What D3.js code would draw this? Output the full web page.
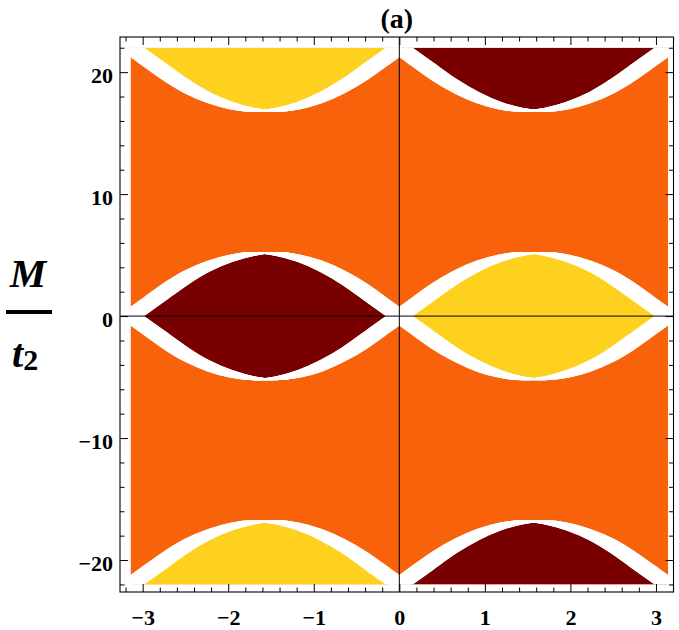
<!DOCTYPE html>
<html>
<head>
<meta charset="utf-8">
<script src="https://cdn.jsdelivr.net/npm/d3@7"></script>
<style>
body { margin: 0; background: #fff; }
text { font-family: "Liberation Serif", "Times New Roman", serif; font-weight: bold; }
</style>
</head>
<body>
<div id="chart"></div>
<script>
// phase boundaries, one arch per half of the phi range
var phiLeft  = [-3.14, -2.88, -2.62, -2.36, -2.09, -1.83, -1.57, -1.31, -1.05, -0.79, -0.52, -0.26, 0];
var phiRight = [0, 0.26, 0.52, 0.79, 1.05, 1.31, 1.57, 1.83, 2.09, 2.36, 2.62, 2.88, 3.14];
// inner (lens) boundary M/t2, upper branch (lower branch is the mirror image)
var lensM = [0, 1.3, 2.6, 3.7, 4.5, 5.0, 5.2, 5.0, 4.5, 3.7, 2.6, 1.3, 0];
// outer boundary M/t2, bottom edge of the upper caps
var capM  = [22, 20.7, 19.4, 18.3, 17.5, 17.0, 16.8, 17.0, 17.5, 18.3, 19.4, 20.7, 22];
var mLimit = 22;
// phase of each region per half: 0 = trivial, -1 / +1 = topological
var halves = ["left", "right"];
var lensPhase = [-1, 1];
var capPhase = [1, -1];
var xTicks = [-3, -2, -1, 0, 1, 2, 3];
var yTicks = [-20, -10, 0, 10, 20];

//Width and height
var w = 679, h = 630;
var gapHalf = 0.145; // half width of the white gap, in phi units

var x = d3.scaleLinear().domain([-3.265, 3.205]).range([120, 673.5]);
var y = d3.scaleLinear().domain([-22.62, 22.88]).range([592, 37]);
var color = d3.scaleOrdinal().domain([-1, 0, 1]).range(["#780000", "#f7620a", "#fed11f"]);
var fmt = d3.format("d");

var svg = d3.select("#chart").append("svg")
  .attr("width", w)
  .attr("height", h);

//Clip to the sampled region
svg.append("defs").append("clipPath").attr("id", "clip")
  .append("rect")
  .attr("x", x(-Math.PI))
  .attr("y", y(mLimit))
  .attr("width", x(Math.PI) - x(-Math.PI))
  .attr("height", y(-mLimit) - y(mLimit));

var plot = svg.append("g").attr("clip-path", "url(#clip)");

plot.append("rect")
  .attr("x", x(-Math.PI))
  .attr("y", y(mLimit))
  .attr("width", x(Math.PI) - x(-Math.PI))
  .attr("height", y(-mLimit) - y(mLimit))
  .attr("fill", color(0));

var phis = [phiLeft, phiRight];

halves.forEach(function(half, i) {
  var lens = d3.zip(phis[i], lensM);
  var cap = d3.zip(phis[i], capM);

  //lens around M = 0
  plot.append("path")
    .datum(lens)
    .attr("class", "region " + half)
    .attr("fill", color(lensPhase[i]))
    .attr("d", d3.area().curve(d3.curveNatural)
      .x(function(d) { return x(d[0]); })
      .y0(function(d) { return y(-d[1]); })
      .y1(function(d) { return y(d[1]); }));

  //upper and lower caps
  [1, -1].forEach(function(s) {
    plot.append("path")
      .datum(cap)
      .attr("class", "region " + half)
      .attr("fill", color(capPhase[i]))
      .attr("d", d3.area().curve(d3.curveNatural)
        .x(function(d) { return x(d[0]); })
        .y0(function(d) { return y(s * d[1]); })
        .y1(function() { return y(s * mLimit); }));
  });
});

//White gaps: boundaries smeared horizontally by +-gapHalf
var gapPx = x(gapHalf) - x(0);
var shifts = d3.range(-gapPx, gapPx + 0.01, 0.75);
var gaps = plot.append("g").attr("fill", "none").attr("stroke", "#fff").attr("stroke-width", 1.4);

halves.forEach(function(half, i) {
  [lensM, capM].forEach(function(curveM) {
    [1, -1].forEach(function(s) {
      var line = d3.line().curve(d3.curveNatural)
        .x(function(d) { return x(d[0]); })
        .y(function(d) { return y(s * d[1]); });
      var pts = d3.zip(phis[i], curveM);
      shifts.forEach(function(dx) {
        gaps.append("path")
          .datum(pts)
          .attr("transform", "translate(" + dx + ",0)")
          .attr("d", line);
      });
    });
  });
});

//Axes lines through the origin
svg.append("line")
  .attr("x1", x(0)).attr("x2", x(0))
  .attr("y1", y.range()[1]).attr("y2", y.range()[0])
  .attr("stroke", "#000").attr("stroke-width", 1);
svg.append("line")
  .attr("x1", x.range()[0]).attr("x2", x.range()[1])
  .attr("y1", y(0)).attr("y2", y(0))
  .attr("stroke", "#000").attr("stroke-width", 1);

//Frame
svg.append("rect")
  .attr("x", x.range()[0])
  .attr("y", y.range()[1])
  .attr("width", x.range()[1] - x.range()[0])
  .attr("height", y.range()[0] - y.range()[1])
  .attr("fill", "none")
  .attr("stroke", "#000")
  .attr("stroke-width", 1.1);

var xMinor = d3.range(-32, 33, 2).filter(function(v) { return v % 10 != 0; }).map(function(v) { return v / 10; });
var yMinor = d3.range(-22, 23, 2).filter(function(v) { return v % 10 != 0; });
var bigTick = 8, smallTick = 4.5;

function frameAxis(axisFn, scale, pos, major, minor, labels) {
  var g = svg.append("g").attr("transform", pos);
  g.call(axisFn(scale).tickValues(minor).tickSize(-smallTick).tickFormat(""));
  var gm = svg.append("g").attr("transform", pos);
  var ax = axisFn(scale).tickValues(major).tickSize(-bigTick).tickFormat(labels ? fmt : "");
  gm.call(ax);
  [g, gm].forEach(function(s) {
    s.select(".domain").remove();
    s.attr("font-family", null).attr("font-size", null);
    s.selectAll("line").attr("stroke-width", 1);
  });
  return gm;
}

var bottom = frameAxis(d3.axisBottom, x, "translate(0," + y.range()[0] + ")", xTicks, xMinor, true);
bottom.selectAll("text")
  .attr("y", 17)
  .attr("dy", "0.71em")
  .style("font-size", "22px");
frameAxis(d3.axisTop, x, "translate(0," + y.range()[1] + ")", xTicks, xMinor, false);

var left = frameAxis(d3.axisLeft, y, "translate(" + x.range()[0] + ",0)", yTicks, yMinor, true);
left.selectAll("text")
  .attr("x", -7)
  .attr("dy", "0.48em")
  .style("font-size", "22px");
frameAxis(d3.axisRight, y, "translate(" + x.range()[1] + ",0)", yTicks, yMinor, false);

// Set Text for the title of the plot
svg.append("text")
  .attr("x", (x.range()[0] + x.range()[1]) / 2)
  .attr("y", 28)
  .style("text-anchor", "middle")
  .style("font-size", "28px")
  .text("(a)");

//M / t2 label
svg.append("text")
  .attr("x", 28)
  .attr("y", 287)
  .style("text-anchor", "middle")
  .style("font-size", "41px")
  .style("font-style", "italic")
  .text("M");
svg.append("line")
  .attr("x1", 6).attr("x2", 52)
  .attr("y1", 312).attr("y2", 312)
  .attr("stroke", "#000").attr("stroke-width", 4);
var t2 = svg.append("text")
  .attr("x", 12)
  .attr("y", 367)
  .style("font-size", "40px")
  .style("font-style", "italic");
t2.append("tspan").text("t");
t2.append("tspan")
  .attr("dy", 3)
  .style("font-size", "30px")
  .style("font-style", "normal")
  .text("2");
</script>
</body>
</html>
